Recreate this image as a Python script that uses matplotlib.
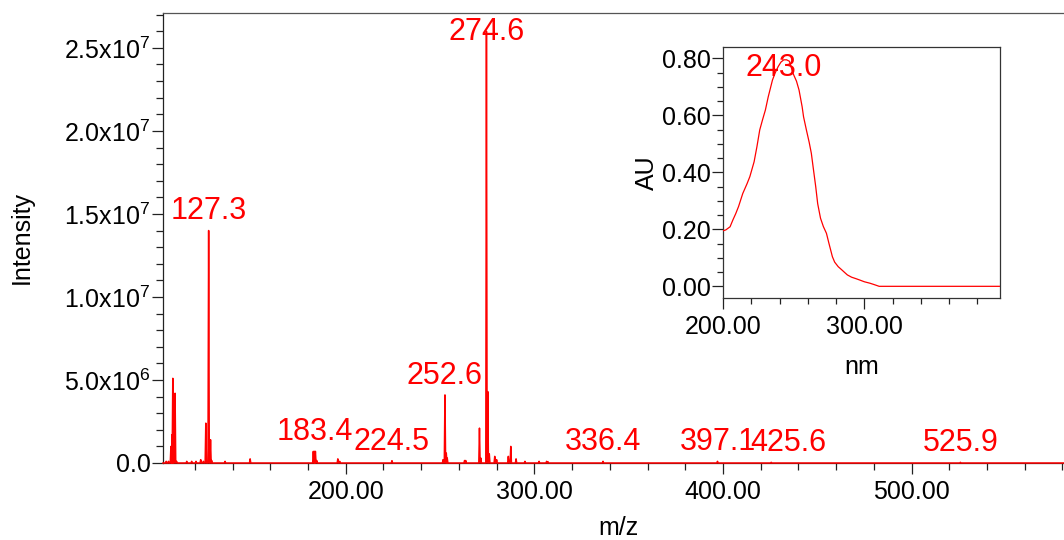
import numpy as np
import matplotlib
matplotlib.use("Agg")
import matplotlib.pyplot as plt
from matplotlib.ticker import MultipleLocator, FuncFormatter, FormatStrFormatter

plt.rcParams["font.family"] = ["Liberation Sans", "DejaVu Sans"]
plt.rcParams["mathtext.fontset"] = "custom"
plt.rcParams["mathtext.rm"] = "Liberation Sans"

# ---- mass spectrum: peak centres (m/z) and intensities (counts) ----
peak_mz = [104.8, 106.0, 107.3, 107.9, 108.3, 109.5, 110.3, 115.7, 118.3, 120.6,
           123.1, 124.5, 125.8, 127.3, 128.3, 128.9, 136.0, 149.3,
           182.8, 183.4, 183.9, 184.6, 195.8, 196.8, 224.5,
           251.6, 252.6, 253.3, 253.8, 263.0, 263.6, 270.9, 271.6,
           274.6, 275.3, 276.1, 279.0, 280.0, 286.2, 287.5, 290.3,
           295.0, 302.5, 306.5, 307.2, 336.4, 397.1, 425.6, 525.9]
peak_int = [0.1e6, 0.1e6, 1.0e6, 1.7e6, 5.1e6, 4.2e6, 0.1e6, 0.1e6, 0.1e6, 0.1e6,
            0.2e6, 0.1e6, 2.4e6, 14.0e6, 1.4e6, 0.15e6, 0.1e6, 0.25e6,
            0.7e6, 0.7e6, 0.7e6, 0.15e6, 0.25e6, 0.1e6, 0.14e6,
            0.2e6, 4.1e6, 0.6e6, 0.3e6, 0.15e6, 0.15e6, 2.1e6, 0.3e6,
            26.0e6, 4.3e6, 0.55e6, 0.4e6, 0.2e6, 0.4e6, 1.0e6, 0.25e6,
            0.1e6, 0.1e6, 0.1e6, 0.08e6, 0.1e6, 0.1e6, 0.04e6, 0.04e6]

# labelled peaks
label_mz = [127.3, 183.4, 224.5, 252.6, 274.6, 336.4, 397.1, 425.6, 525.9]

# ---- UV spectrum ----
uv_nm = [200, 202, 205, 207, 209, 211, 214, 217, 219, 222, 224, 226, 228, 230,
         232, 235, 237, 239, 241, 243.0, 245, 247, 249.6, 252, 253.8, 256, 257,
         259, 261, 262.5, 264, 265.6, 267, 269, 271, 273.2, 275, 277.4, 279,
         281.5, 284, 286.2, 288, 291, 294, 296.8, 300, 303.9, 307, 310.5, 396]
uv_au = [0.195, 0.198, 0.209, 0.233, 0.255, 0.28, 0.326, 0.36, 0.385, 0.437,
         0.49, 0.549, 0.585, 0.619, 0.665, 0.724, 0.75, 0.771, 0.787, 0.795,
         0.795, 0.79, 0.747, 0.72, 0.689, 0.63, 0.595, 0.549, 0.505, 0.467,
         0.41, 0.35, 0.29, 0.239, 0.21, 0.186, 0.15, 0.104, 0.085, 0.069,
         0.058, 0.048, 0.04, 0.032, 0.027, 0.022, 0.016, 0.011, 0.006, 0.0, 0.0]
uv_label_nm = 243.0

RED = "#ff0000"
W, H = 1064, 540
fig = plt.figure(figsize=(W / 100, H / 100), dpi=100)

# main axes (right edge runs slightly past the figure)
x0, x1, ytop, ybot = 163, 1073, 13, 463
ax = fig.add_axes([x0 / W, 1 - ybot / H, (x1 - x0) / W, (ybot - ytop) / H])
xmin, xmax = 103.1, 585.6
ax.set_xlim(xmin, xmax)
ax.set_ylim(0, 27.1e6)

# build a narrow profile from the peak list
hw = 0.35
order = np.argsort(peak_mz)
px, py = [xmin], [0.0]
for i in order:
    m, h = peak_mz[i], peak_int[i]
    px += [m - hw, m, m + hw]
    py += [0.0, h, 0.0]
px.append(xmax)
py.append(0.0)
ax.plot(px, py, color=RED, lw=1.1, clip_on=False, zorder=5)

lookup = dict(zip(peak_mz, peak_int))
for m in label_mz:
    dy = 8
    dx = 0
    if m == 274.6:
        dy = -6
    if m == 425.6:
        dx = 12
    ax.annotate(f"{m:.1f}", xy=(m, lookup[m]), xytext=(dx, dy),
                textcoords="offset points", ha="center", va="baseline",
                color=RED, fontsize=22, zorder=6)

def sci_fmt(v, pos):
    if v <= 0:
        return "0.0"
    e = int(np.floor(np.log10(v) + 1e-9))
    return r"$\mathregular{%.1fx10^{%d}}$" % (v / 10 ** e, e)

ax.xaxis.set_major_locator(MultipleLocator(100))
ax.xaxis.set_minor_locator(MultipleLocator(20))
ax.xaxis.set_major_formatter(FormatStrFormatter("%.2f"))
ax.yaxis.set_major_locator(MultipleLocator(5e6))
ax.yaxis.set_minor_locator(MultipleLocator(1e6))
ax.yaxis.set_major_formatter(FuncFormatter(sci_fmt))
ax.tick_params(axis="both", which="major", length=8, width=0.9, labelsize=18,
               direction="out", color="#222222")
ax.tick_params(axis="both", which="minor", length=4.8, width=0.9,
               direction="out", color="#222222")
ax.tick_params(axis="y", which="major", pad=1)
ax.tick_params(axis="x", which="major", pad=4)
ax.spines["right"].set_visible(False)
ax.spines["top"].set_color("#555555")
ax.spines["left"].set_color("#222222")
ax.spines["bottom"].set_color("#222222")
for s in ax.spines.values():
    s.set_linewidth(0.9)
ax.set_xlabel("m/z", fontsize=18, labelpad=9)
ax.set_ylabel("Intensity", fontsize=18, labelpad=22)

# inset UV spectrum
ix0, ix1, iyt, iyb = 723, 1000, 47, 298
ins = fig.add_axes([ix0 / W, 1 - iyb / H, (ix1 - ix0) / W, (iyb - iyt) / H])
ins.set_xlim(200, 396)
ins.set_ylim(-0.041, 0.84)
ins.plot(uv_nm, uv_au, color=RED, lw=0.9, zorder=5)
peak_au = uv_au[uv_nm.index(uv_label_nm)]
ins.annotate(f"{uv_label_nm:.1f}", xy=(uv_label_nm, peak_au), xytext=(0, -11.5),
             textcoords="offset points", ha="center", va="baseline",
             color=RED, fontsize=22, zorder=6)
ins.xaxis.set_major_locator(MultipleLocator(100))
ins.xaxis.set_minor_locator(MultipleLocator(20))
ins.xaxis.set_major_formatter(FormatStrFormatter("%.2f"))
ins.yaxis.set_major_locator(MultipleLocator(0.2))
ins.yaxis.set_minor_locator(MultipleLocator(0.05))
ins.yaxis.set_major_formatter(FormatStrFormatter("%.2f"))
ins.tick_params(axis="both", which="major", length=8, width=0.9, labelsize=18,
                direction="out", color="#222222")
ins.tick_params(axis="both", which="minor", length=4.5, width=0.9,
                direction="out", color="#222222")
ins.tick_params(axis="y", which="major", pad=1)
ins.tick_params(axis="x", which="major", pad=4)
for s in ins.spines.values():
    s.set_color("#333333")
    s.set_linewidth(0.9)
ins.set_xlabel("nm", fontsize=18, labelpad=12)
ins.set_ylabel("AU", fontsize=18, labelpad=2)

fig.savefig("out.png", dpi=100)
